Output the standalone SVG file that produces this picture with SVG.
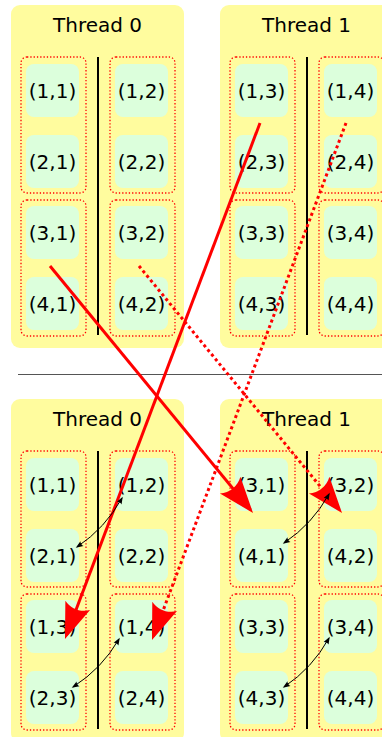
<svg xmlns="http://www.w3.org/2000/svg" width="382" height="737" viewBox="0 0 382 737">
  <style>
    .panel { fill: #fffc9e; }
    .title { font-family: "DejaVu Sans", sans-serif; font-size: 20px; fill: #000; text-anchor: middle; }
    .lbl { font-family: "DejaVu Sans", sans-serif; font-size: 20px; fill: #000; text-anchor: middle; }
    .cell { fill: #dcffdc; }
    .grp { fill: none; stroke: #ff0000; stroke-width: 1.3; stroke-dasharray: 1.3 2; }
    .split { stroke: #000; stroke-width: 2; }
    .sep { stroke: #555; stroke-width: 1; }
    .move { fill: none; stroke: #ff0000; stroke-width: 3; }
    .move.dot { stroke-dasharray: 3 3; }
    .swap { fill: none; stroke: #000; stroke-width: 1; }
  </style>
  <defs>
    <marker id="bigHead" markerUnits="userSpaceOnUse" orient="auto" refX="0" refY="0" markerWidth="80" markerHeight="80" overflow="visible">
      <path d="M4,0 L-32,-13.2 C-26.3,-5.3 -26.3,5.3 -32,13.2 Z" fill="#ff0000"/>
    </marker>
    <marker id="smallHead" markerUnits="userSpaceOnUse" orient="auto-start-reverse" refX="0" refY="0" markerWidth="20" markerHeight="20" overflow="visible">
      <path d="M1.5,0 L-6,-2.8 C-4.8,-1.1 -4.8,1.1 -6,2.8 Z" fill="#000"/>
    </marker>
  </defs>

  <!-- Top: Thread 0 -->
  <g id="top-thread0">
    <rect class="panel" x="11" y="5" width="173" height="343" rx="9"/>
    <text class="title" x="97.5" y="32">Thread 0</text>
    <line class="split" x1="98" y1="57" x2="98" y2="335"/>
    <rect class="grp" x="21" y="57" width="65" height="136" rx="6"/>
    <rect class="grp" x="110" y="57" width="65" height="136" rx="6"/>
    <rect class="grp" x="21" y="200" width="65" height="136" rx="6"/>
    <rect class="grp" x="110" y="200" width="65" height="136" rx="6"/>
    <g id="t0-1-1"><rect class="cell" x="26" y="64" width="53" height="53" rx="8"/><text class="lbl" x="52.5" y="97.5">(1,1)</text></g>
    <g id="t0-1-2"><rect class="cell" x="115" y="64" width="53" height="53" rx="8"/><text class="lbl" x="141.5" y="97.5">(1,2)</text></g>
    <g id="t0-2-1"><rect class="cell" x="26" y="135" width="53" height="53" rx="8"/><text class="lbl" x="52.5" y="168.5">(2,1)</text></g>
    <g id="t0-2-2"><rect class="cell" x="115" y="135" width="53" height="53" rx="8"/><text class="lbl" x="141.5" y="168.5">(2,2)</text></g>
    <g id="t0-3-1"><rect class="cell" x="26" y="206" width="53" height="53" rx="8"/><text class="lbl" x="52.5" y="239.5">(3,1)</text></g>
    <g id="t0-3-2"><rect class="cell" x="115" y="206" width="53" height="53" rx="8"/><text class="lbl" x="141.5" y="239.5">(3,2)</text></g>
    <g id="t0-4-1"><rect class="cell" x="26" y="277" width="53" height="53" rx="8"/><text class="lbl" x="52.5" y="310.5">(4,1)</text></g>
    <g id="t0-4-2"><rect class="cell" x="115" y="277" width="53" height="53" rx="8"/><text class="lbl" x="141.5" y="310.5">(4,2)</text></g>
  </g>

  <!-- Top: Thread 1 -->
  <g id="top-thread1" transform="translate(209,0)">
    <rect class="panel" x="11" y="5" width="173" height="343" rx="9"/>
    <text class="title" x="97.5" y="32">Thread 1</text>
    <line class="split" x1="98" y1="57" x2="98" y2="335"/>
    <rect class="grp" x="21" y="57" width="65" height="136" rx="6"/>
    <rect class="grp" x="110" y="57" width="65" height="136" rx="6"/>
    <rect class="grp" x="21" y="200" width="65" height="136" rx="6"/>
    <rect class="grp" x="110" y="200" width="65" height="136" rx="6"/>
    <g id="t1-1-3"><rect class="cell" x="26" y="64" width="53" height="53" rx="8"/><text class="lbl" x="52.5" y="97.5">(1,3)</text></g>
    <g id="t1-1-4"><rect class="cell" x="115" y="64" width="53" height="53" rx="8"/><text class="lbl" x="141.5" y="97.5">(1,4)</text></g>
    <g id="t1-2-3"><rect class="cell" x="26" y="135" width="53" height="53" rx="8"/><text class="lbl" x="52.5" y="168.5">(2,3)</text></g>
    <g id="t1-2-4"><rect class="cell" x="115" y="135" width="53" height="53" rx="8"/><text class="lbl" x="141.5" y="168.5">(2,4)</text></g>
    <g id="t1-3-3"><rect class="cell" x="26" y="206" width="53" height="53" rx="8"/><text class="lbl" x="52.5" y="239.5">(3,3)</text></g>
    <g id="t1-3-4"><rect class="cell" x="115" y="206" width="53" height="53" rx="8"/><text class="lbl" x="141.5" y="239.5">(3,4)</text></g>
    <g id="t1-4-3"><rect class="cell" x="26" y="277" width="53" height="53" rx="8"/><text class="lbl" x="52.5" y="310.5">(4,3)</text></g>
    <g id="t1-4-4"><rect class="cell" x="115" y="277" width="53" height="53" rx="8"/><text class="lbl" x="141.5" y="310.5">(4,4)</text></g>
  </g>

  <line class="sep" x1="18" y1="374.5" x2="382" y2="374.5"/>

  <!-- Bottom: Thread 0 -->
  <g id="bottom-thread0" transform="translate(0,394)">
    <rect class="panel" x="11" y="5" width="173" height="343" rx="9"/>
    <text class="title" x="97.5" y="32">Thread 0</text>
    <line class="split" x1="98" y1="57" x2="98" y2="335"/>
    <rect class="grp" x="21" y="57" width="65" height="136" rx="6"/>
    <rect class="grp" x="110" y="57" width="65" height="136" rx="6"/>
    <rect class="grp" x="21" y="200" width="65" height="136" rx="6"/>
    <rect class="grp" x="110" y="200" width="65" height="136" rx="6"/>
    <g id="b0-1-1"><rect class="cell" x="26" y="64" width="53" height="53" rx="8"/><text class="lbl" x="52.5" y="97.5">(1,1)</text></g>
    <g id="b0-1-2"><rect class="cell" x="115" y="64" width="53" height="53" rx="8"/><text class="lbl" x="141.5" y="97.5">(1,2)</text></g>
    <g id="b0-2-1"><rect class="cell" x="26" y="135" width="53" height="53" rx="8"/><text class="lbl" x="52.5" y="168.5">(2,1)</text></g>
    <g id="b0-2-2"><rect class="cell" x="115" y="135" width="53" height="53" rx="8"/><text class="lbl" x="141.5" y="168.5">(2,2)</text></g>
    <g id="b0-1-3"><rect class="cell" x="26" y="206" width="53" height="53" rx="8"/><text class="lbl" x="52.5" y="239.5">(1,3)</text></g>
    <g id="b0-1-4"><rect class="cell" x="115" y="206" width="53" height="53" rx="8"/><text class="lbl" x="141.5" y="239.5">(1,4)</text></g>
    <g id="b0-2-3"><rect class="cell" x="26" y="277" width="53" height="53" rx="8"/><text class="lbl" x="52.5" y="310.5">(2,3)</text></g>
    <g id="b0-2-4"><rect class="cell" x="115" y="277" width="53" height="53" rx="8"/><text class="lbl" x="141.5" y="310.5">(2,4)</text></g>
  </g>

  <!-- Bottom: Thread 1 -->
  <g id="bottom-thread1" transform="translate(209,394)">
    <rect class="panel" x="11" y="5" width="173" height="343" rx="9"/>
    <text class="title" x="97.5" y="32">Thread 1</text>
    <line class="split" x1="98" y1="57" x2="98" y2="335"/>
    <rect class="grp" x="21" y="57" width="65" height="136" rx="6"/>
    <rect class="grp" x="110" y="57" width="65" height="136" rx="6"/>
    <rect class="grp" x="21" y="200" width="65" height="136" rx="6"/>
    <rect class="grp" x="110" y="200" width="65" height="136" rx="6"/>
    <g id="b1-3-1"><rect class="cell" x="26" y="64" width="53" height="53" rx="8"/><text class="lbl" x="52.5" y="97.5">(3,1)</text></g>
    <g id="b1-3-2"><rect class="cell" x="115" y="64" width="53" height="53" rx="8"/><text class="lbl" x="141.5" y="97.5">(3,2)</text></g>
    <g id="b1-4-1"><rect class="cell" x="26" y="135" width="53" height="53" rx="8"/><text class="lbl" x="52.5" y="168.5">(4,1)</text></g>
    <g id="b1-4-2"><rect class="cell" x="115" y="135" width="53" height="53" rx="8"/><text class="lbl" x="141.5" y="168.5">(4,2)</text></g>
    <g id="b1-3-3"><rect class="cell" x="26" y="206" width="53" height="53" rx="8"/><text class="lbl" x="52.5" y="239.5">(3,3)</text></g>
    <g id="b1-3-4"><rect class="cell" x="115" y="206" width="53" height="53" rx="8"/><text class="lbl" x="141.5" y="239.5">(3,4)</text></g>
    <g id="b1-4-3"><rect class="cell" x="26" y="277" width="53" height="53" rx="8"/><text class="lbl" x="52.5" y="310.5">(4,3)</text></g>
    <g id="b1-4-4"><rect class="cell" x="115" y="277" width="53" height="53" rx="8"/><text class="lbl" x="141.5" y="310.5">(4,4)</text></g>
  </g>

  <!-- Connectors -->
  <g id="connectors">
    <!-- block moves between threads -->
    <line class="move" x1="50" y1="266" x2="250.5" y2="509.9" marker-end="url(#bigHead)"/>
    <line class="move dot" x1="139" y1="266" x2="339.5" y2="509.9" marker-end="url(#bigHead)"/>
    <line class="move" x1="260" y1="123" x2="66.4" y2="635.3" marker-end="url(#bigHead)"/>
    <line class="move dot" x1="346" y1="123" x2="153.4" y2="636.3" marker-end="url(#bigHead)"/>
    <!-- local swaps inside each thread -->
    <path class="swap" d="M77,547 Q105.4,528 122,498" marker-start="url(#smallHead)" marker-end="url(#smallHead)"/>
    <path class="swap" d="M73,687 Q102,668.5 119,639" marker-start="url(#smallHead)" marker-end="url(#smallHead)"/>
    <path class="swap" d="M284,543 Q312.5,524 329,494" marker-start="url(#smallHead)" marker-end="url(#smallHead)"/>
    <path class="swap" d="M284,687 Q312.5,668 329,638" marker-start="url(#smallHead)" marker-end="url(#smallHead)"/>
  </g>
</svg>
